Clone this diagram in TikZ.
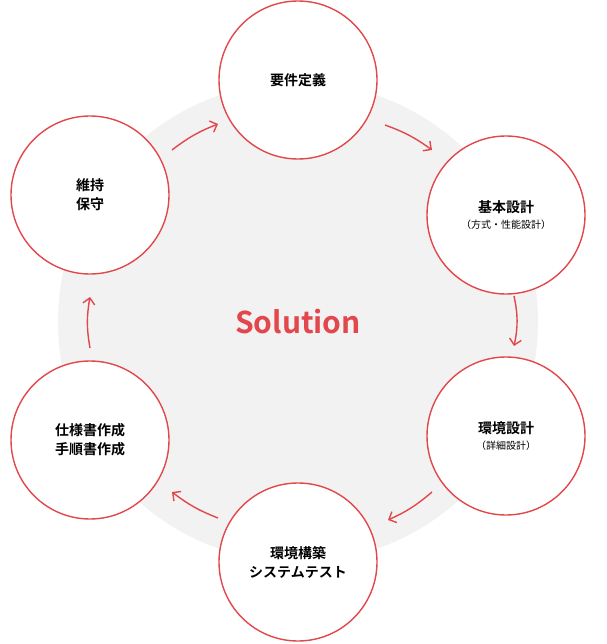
\documentclass[tikz,border=0pt]{standalone}
\usepackage{fontspec}
\newfontfamily\jp{Noto Sans CJK JP}[BoldFont={Noto Sans CJK JP Bold}]
\usetikzlibrary{arrows.meta}
\definecolor{myred}{HTML}{E2474C}
\definecolor{mygray}{HTML}{F2F2F2}
\begin{document}
\begin{tikzpicture}[x=1pt,y=-1pt,
  stepcirc/.style={circle,draw=myred,line width=1.4pt,fill=white,minimum size=158pt,inner sep=0pt,align=center,font=\jp\bfseries\fontsize{14}{19}\selectfont},
  flow/.style={draw=myred,line width=1.4pt,-{Straight Barb[length=6pt,width=12pt]}}]
\useasboundingbox (0,0) rectangle (606,644);
\fill[mygray] (298,322) circle (240);
\node (sol) at (298,322) {\jp\bfseries\color{myred}\fontsize{30}{34}\selectfont Solution};
\node[stepcirc] (a) at (298,80) {要件定義};
\node[stepcirc] (b) at (506,215) {基本設計\\[-3pt]{\jp\mdseries\fontsize{10}{12}\selectfont（方式・性能設計）}};
\node[stepcirc] (c) at (506,436) {環境設計\\[-3pt]{\jp\mdseries\fontsize{10}{12}\selectfont（詳細設計）}};
\node[stepcirc] (d) at (298,562) {環境構築\\システムテスト};
\node[stepcirc] (e) at (90,440) {仕様書作成\\手順書作成};
\node[stepcirc] (f) at (90,195) {維持\\保守};
\coordinate (a1) at (385,125); \coordinate (a2) at (432,150);
\coordinate (b1) at (514,296); \coordinate (b2) at (514,346);
\coordinate (c1) at (432,492); \coordinate (c2) at (388,520);
\coordinate (d1) at (218,518); \coordinate (d2) at (172,492);
\coordinate (e1) at (90,348); \coordinate (e2) at (90,297);
\coordinate (f1) at (172,150); \coordinate (f2) at (218,124);
\draw[flow] (a1) to[bend left=8] (a2);
\draw[flow] (b1) to[bend left=12] (b2);
\draw[flow] (c1) to[bend left=8] (c2);
\draw[flow] (d1) to[bend left=8] (d2);
\draw[flow] (e1) to[bend left=10] (e2);
\draw[flow] (f1) to[bend left=8] (f2);
\end{tikzpicture}
\end{document}
